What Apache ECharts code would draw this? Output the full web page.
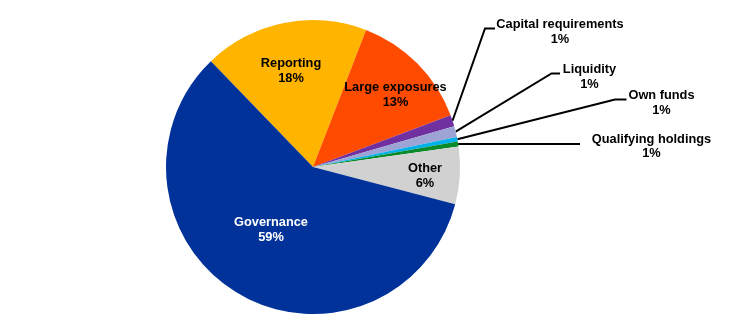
<!DOCTYPE html>
<html>
<head>
<meta charset="utf-8">
<script src="https://cdn.jsdelivr.net/npm/echarts@6/dist/echarts.min.js"></script>
<style>
  html, body { margin: 0; padding: 0; background: #ffffff; }
  #chart { width: 744px; height: 323px; }
</style>
</head>
<body>
<div id="chart"></div>
<script>
// Share of findings by topic (per cent)
const categories = ['Reporting', 'Large exposures', 'Capital requirements', 'Liquidity',
                    'Own funds', 'Qualifying holdings', 'Other', 'Governance'];
const shares = [18.1, 13.4, 1.25, 1.2, 0.5, 0.55, 6.3, 58.7];

const sliceColors = ['#FFB400', '#FF4B00', '#7030A0', '#9EA3D6',
                     '#00B1EA', '#0A8A2A', '#D1D1D1', '#003299'];
const textColors = ['#000', '#000', '#000', '#000', '#000', '#000', '#000', '#fff'];

// Topics whose labels sit outside the pie, joined by a leader line
const outsideTopics = ['Capital requirements', 'Liquidity', 'Own funds', 'Qualifying holdings'];

// Label placement (centre of each text block, and leader-line elbow/end)
const labelPlacement = {
  'Reporting':            { x: 291, y: 71 },
  'Large exposures':      { x: 395.5, y: 95 },
  'Other':                { x: 425, y: 176 },
  'Governance':           { x: 271, y: 230 },
  'Capital requirements': { x: 560, y: 32, line: [[485, 28.5], [495, 28.5]] },
  'Liquidity':            { x: 589.5, y: 77, line: [[551.5, 73.5], [560, 73.5]] },
  'Own funds':            { x: 661.5, y: 103, line: [[615, 99.5], [626.5, 99.5]] },
  'Qualifying holdings':  { x: 651.5, y: 146.5, line: [[570, 144], [580, 144]] }
};

const chart = echarts.init(document.getElementById('chart'), null, { renderer: 'canvas' });

const pieData = categories.map((name, i) => {
  const outside = outsideTopics.includes(name);
  return {
    name: name,
    value: shares[i],
    itemStyle: { color: sliceColors[i] },
    label: { position: outside ? 'outside' : 'inside', color: textColors[i] },
    labelLine: { show: outside }
  };
});

chart.setOption({
  animation: false,
  backgroundColor: '#ffffff',
  series: [{
    type: 'pie',
    center: [313, 167],
    radius: [0, 147],
    startAngle: 134,
    clockwise: true,
    avoidLabelOverlap: false,
    silent: true,
    itemStyle: { borderWidth: 0 },
    label: {
      show: true,
      fontFamily: 'Liberation Sans, Arial, sans-serif',
      fontWeight: 'bold',
      fontSize: 12.8,
      lineHeight: 14.4,
      align: 'center',
      formatter: p => p.name + '\n' + Math.round(p.value) + '%'
    },
    labelLine: {
      length: 20,
      length2: 10,
      lineStyle: { color: '#000000', width: 2 }
    },
    labelLayout: function (p) {
      const name = categories[p.dataIndex];
      const pl = labelPlacement[name];
      if (!pl) return {};
      const out = { x: pl.x, y: pl.y, align: 'center', verticalAlign: 'middle' };
      if (pl.line && p.labelLinePoints && p.labelLinePoints.length) {
        out.labelLinePoints = [p.labelLinePoints[0], pl.line[0], pl.line[1]];
      }
      return out;
    },
    data: pieData
  }]
});
</script>
</body>
</html>
